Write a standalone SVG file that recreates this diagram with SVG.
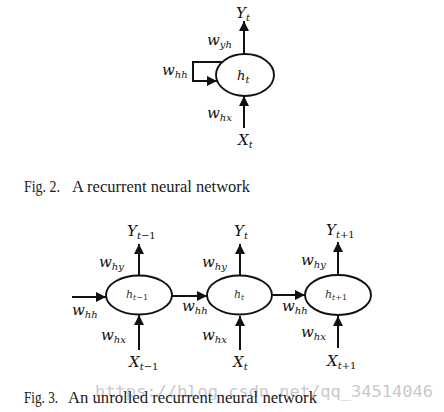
<svg xmlns="http://www.w3.org/2000/svg" width="444" height="412" viewBox="0 0 444 412">
<style>
.bg{fill:#fff}
.node{fill:#fff;stroke:#111;stroke-width:1.9}
.edge{fill:none;stroke:#111;stroke-width:2}
.m{font-family:"DejaVu Serif","Liberation Serif",serif;font-style:italic;fill:#111}
.big{font-size:15px}
.w{font-size:15px}
.sub{font-size:10px}
.up{font-style:normal}
.hl{font-family:"DejaVu Serif","Liberation Serif",serif;font-style:italic;fill:#333;font-size:11px}
.cap{font-family:"Liberation Serif","Times New Roman",serif;font-size:16px;fill:#1a1a1a}
.wm{font-family:"DejaVu Sans Mono","Liberation Mono",monospace;font-size:16.5px;fill:#c9c9c9}
</style>
<defs>
<marker id="ah" markerUnits="userSpaceOnUse" markerWidth="10" markerHeight="10" viewBox="0 0 10 10" refX="10" refY="5" orient="auto">
<path d="M0,0 L10,5 L0,10 Z" fill="#111"/>
</marker>
</defs>
<rect class="bg" width="444" height="412"/>

<g id="connectors">
<!-- Fig 2 -->
<line class="edge" x1="244" y1="54" x2="244" y2="21" marker-end="url(#ah)"/>
<polyline class="edge" points="222,62 193,62 193,81 217,81" marker-end="url(#ah)"/>
<line class="edge" x1="244" y1="128" x2="244" y2="96" marker-end="url(#ah)"/>
<!-- Fig 3 -->
<line class="edge" x1="72" y1="297" x2="106" y2="297" marker-end="url(#ah)"/>
<line class="edge" x1="172" y1="296" x2="207" y2="296" marker-end="url(#ah)"/>
<line class="edge" x1="272" y1="295" x2="305" y2="295" marker-end="url(#ah)"/>
<line class="edge" x1="139" y1="275" x2="139" y2="244" marker-end="url(#ah)"/>
<line class="edge" x1="240" y1="275" x2="240" y2="244" marker-end="url(#ah)"/>
<line class="edge" x1="338" y1="274" x2="338" y2="242" marker-end="url(#ah)"/>
<line class="edge" x1="139" y1="350" x2="139" y2="315" marker-end="url(#ah)"/>
<line class="edge" x1="240" y1="350" x2="240" y2="316" marker-end="url(#ah)"/>
<line class="edge" x1="338" y1="348" x2="338" y2="316" marker-end="url(#ah)"/>
</g>

<g id="fig2-labels">
<text class="m big" x="236" y="18">Y<tspan class="sub" dy="3">t</tspan></text>
<text class="m w" x="207" y="45">w<tspan class="sub" dy="3">yh</tspan></text>
<text class="m w" x="162" y="75">w<tspan class="sub" dy="3">hh</tspan></text>
<text class="m w" x="207" y="118">w<tspan class="sub" dy="3">hx</tspan></text>
<text class="m big" x="238" y="145">X<tspan class="sub" dy="3">t</tspan></text>
</g>

<g id="node-ht-fig2">
<ellipse class="node" cx="245" cy="75" rx="29" ry="21"/>
<text class="m" font-size="13" x="237" y="80">h<tspan class="sub" dy="3">t</tspan></text>
</g>

<g id="node-ht-1">
<ellipse class="node" cx="139" cy="295" rx="33" ry="19.5"/>
<text class="hl" x="126" y="298">h<tspan font-size="8" dy="2">t</tspan><tspan class="up" font-size="8">−1</tspan></text>
</g>
<g id="node-ht">
<ellipse class="node" cx="239.5" cy="295" rx="32.5" ry="19.5"/>
<text class="hl" x="234" y="298">h<tspan font-size="8" dy="2">t</tspan></text>
</g>
<g id="node-ht+1">
<ellipse class="node" cx="338" cy="295" rx="33" ry="20"/>
<text class="hl" x="325" y="298">h<tspan font-size="8" dy="2">t</tspan><tspan class="up" font-size="8">+1</tspan></text>
</g>

<g id="fig3-labels">
<text class="m big" x="127" y="236">Y<tspan class="sub" dy="3">t</tspan><tspan class="sub up">−1</tspan></text>
<text class="m big" x="234" y="236">Y<tspan class="sub" dy="3">t</tspan></text>
<text class="m big" x="326" y="235">Y<tspan class="sub" dy="3">t</tspan><tspan class="sub up">+1</tspan></text>
<text class="m w" x="99" y="267">w<tspan class="sub" dy="3">hy</tspan></text>
<text class="m w" x="202" y="267">w<tspan class="sub" dy="3">hy</tspan></text>
<text class="m w" x="301" y="265">w<tspan class="sub" dy="3">hy</tspan></text>
<text class="m w" x="72" y="315">w<tspan class="sub" dy="3">hh</tspan></text>
<text class="m w" x="182" y="311">w<tspan class="sub" dy="3">hh</tspan></text>
<text class="m w" x="282" y="311">w<tspan class="sub" dy="3">hh</tspan></text>
<text class="m w" x="101" y="340">w<tspan class="sub" dy="3">hx</tspan></text>
<text class="m w" x="202" y="340">w<tspan class="sub" dy="3">hx</tspan></text>
<text class="m w" x="301" y="337">w<tspan class="sub" dy="3">hx</tspan></text>
<text class="m big" x="129" y="367">X<tspan class="sub" dy="3">t</tspan><tspan class="sub up">−1</tspan></text>
<text class="m big" x="233" y="367">X<tspan class="sub" dy="3">t</tspan></text>
<text class="m big" x="327" y="366">X<tspan class="sub" dy="3">t</tspan><tspan class="sub up">+1</tspan></text>
</g>

<g id="captions">
<text class="cap" x="24" y="192" textLength="36" lengthAdjust="spacingAndGlyphs">Fig. 2.</text>
<text class="cap" x="72" y="192" textLength="178" lengthAdjust="spacingAndGlyphs">A recurrent neural network</text>
<text class="wm" x="95" y="397" textLength="338" lengthAdjust="spacingAndGlyphs">https://blog.csdn.net/qq_34514046</text>
<text class="cap" x="24" y="403" textLength="34" lengthAdjust="spacingAndGlyphs">Fig. 3.</text>
<text class="cap" x="68" y="403" textLength="249" lengthAdjust="spacingAndGlyphs">An unrolled recurrent neural network</text>
</g>
</svg>
